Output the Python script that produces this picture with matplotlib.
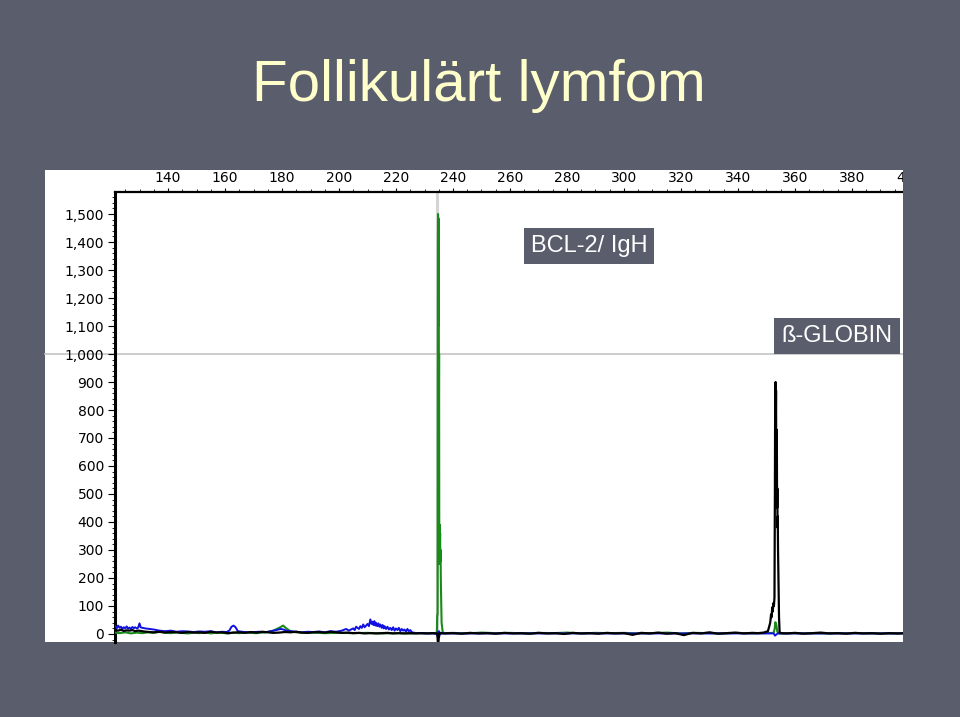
import matplotlib
matplotlib.use("Agg")
import matplotlib.pyplot as plt
from matplotlib.patches import Rectangle
from matplotlib.ticker import FixedLocator, MultipleLocator, FuncFormatter
from matplotlib import font_manager

# ---------------- data (size in bp, signal in RFU) ----------------
title_text = "Follikulärt lymfom"
label_bcl2 = "BCL-2/ IgH"
label_globin = "ß-GLOBIN"

x_ticks = [140, 160, 180, 200, 220, 240, 260, 280, 300, 320, 340, 360, 380, 400]
y_ticks = [0, 100, 200, 300, 400, 500, 600, 700, 800, 900, 1000, 1100, 1200, 1300, 1400, 1500]
ref_line_y = 1000
ref_line_x = 234.4

green_trace = [
    (121.5, 5), (123, 3), (125, 6), (127, 2), (129, 5), (131, 3), (133, 6), (135, 4),
    (137, 8), (139, 5), (141, 3), (143, 6), (145, 4), (147, 2), (149, 5), (151, 3),
    (153, 6), (155, 2), (157, 5), (159, 4), (161, 2), (163, 5), (165, 3), (167, 6),
    (169, 4), (171, 3), (173, 5), (175, 7), (177, 12), (179, 22), (180.4, 30),
    (181.5, 20), (183, 10), (185, 6), (187, 4), (190, 5), (195, 3), (200, 4),
    (205, 3), (210, 4), (215, 2), (220, 3), (225, 2), (230, 3), (234.0, 3),
    (234.35, 8), (234.45, 68), (234.6, 70), (234.7, 1380), (234.75, 1500),
    (234.82, 1250), (234.88, 1485), (234.95, 1100), (235.0, 1360), (235.06, 800),
    (235.12, 1000), (235.18, 380), (235.25, 250), (235.32, 390), (235.4, 320),
    (235.48, 360), (235.56, 260), (235.64, 300), (235.72, 200), (235.8, 150),
    (236.0, 40), (236.4, 6), (237, 3), (240, 4), (245, 2), (250, 5), (255, 3),
    (260, 4), (265, 2), (270, 4), (275, 3), (280, 5), (285, 2), (290, 4), (295, 3),
    (300, 4), (305, 2), (310, 3), (315, 5), (320, 2), (325, 4), (330, 3),
    (335, 2), (340, 4), (345, 2), (349, 3), (352.5, 4), (352.9, 20), (353.1, 42),
    (353.3, 38), (353.5, 30), (353.8, 8), (354.3, 2), (360, 3), (370, 2),
    (380, 3), (390, 2), (418, 2),
]

blue_trace = [
    (121.5, 28), (122.0, 20), (122.5, 30), (123.0, 22), (123.5, 26), (124.0, 18),
    (124.5, 24), (125.0, 20), (125.5, 27), (126.0, 19), (126.5, 23), (127.0, 18),
    (127.5, 25), (128.0, 21), (128.5, 24), (129.0, 20), (129.5, 22), (130.0, 38),
    (130.4, 24), (131, 22), (132, 20), (133.5, 18), (135, 16), (137, 12), (139, 10),
    (141, 12), (143, 8), (145, 10), (147, 9), (149, 7), (151, 9), (153, 8),
    (155, 10), (157, 6), (159, 8), (160.5, 7), (161.5, 12), (162.3, 26), (163, 30),
    (163.7, 24), (164.5, 10), (166, 8), (168, 6), (170, 7), (172, 8), (174, 6),
    (176, 10), (178, 14), (179.5, 18), (180.5, 16), (181.5, 12), (183, 10),
    (185, 8), (187, 6), (189, 8), (191, 7), (193, 9), (195, 6), (197, 10),
    (199, 8), (201, 12), (202.5, 18), (203.5, 12), (204, 15), (205, 20), (205.5, 14),
    (206, 26), (207, 18), (207.5, 28), (208, 22), (208.5, 34), (209, 24),
    (209.5, 30), (210, 36), (210.5, 28), (211, 52), (211.4, 36), (211.7, 44),
    (212.1, 32), (212.4, 46), (212.8, 30), (213, 40), (213.4, 28), (213.8, 38),
    (214.2, 26), (214.5, 34), (215.0, 22), (215.3, 32), (215.7, 20), (216, 28),
    (216.5, 18), (217, 26), (217.5, 16), (218, 22), (218.5, 14), (219, 24),
    (219.5, 12), (220, 20), (220.5, 14), (221, 22), (221.5, 10), (222, 18),
    (222.5, 12), (223, 16), (223.5, 8), (224, 18), (224.5, 10), (225, 14),
    (225.6, 6), (226.5, 4), (228, 3), (230, 2), (233, 2), (234.35, 0), (234.6, -10),
    (234.9, -12), (235.2, -8), (235.35, 4), (235.1, 10), (234.8, 8), (234.55, 0),
    (235.6, 2), (237, 2), (260, 2), (300, 2), (340, 2), (352.5, 2),
    (353.0, -6), (353.4, -2), (354, 2), (360, 2), (418, 2),
]

black_trace = [
    (121.5, 14), (122.5, 12), (123.5, 15), (124.5, 11), (125.5, 13), (126.5, 12),
    (127.5, 14), (128.5, 10), (129.5, 12), (130.5, 11), (131.5, 9), (132.5, 8),
    (133.5, 7), (135, 6), (137, 8), (139, 5), (141, 7), (143, 6), (145, 4),
    (147, 7), (149, 5), (151, 6), (153, 4), (155, 8), (157, 5), (159, 6),
    (161, 3), (163, 5), (165, 6), (167, 4), (169, 7), (171, 5), (173, 8),
    (175, 6), (177, 4), (179, 5), (181, 7), (183, 6), (185, 8), (187, 5),
    (189, 4), (191, 6), (193, 7), (195, 5), (197, 8), (199, 6), (201, 4),
    (203, 5), (205, 3), (207, 4), (209, 2), (211, 3), (213, 2), (215, 3),
    (217, 4), (219, 2), (221, 3), (223, 2), (225, 3), (227, 2), (229, 3),
    (231, 2), (233, 3), (234.5, 2), (234.8, -40), (235.0, -15), (235.2, 2),
    (235.6, 3), (237, 2), (240, 3), (243, 1), (246, 4), (249, 2), (252, 3),
    (255, 1), (258, 4), (261, 2), (264, 3), (267, 1), (270, 4), (273, 2),
    (276, 3), (279, 0), (282, 4), (285, 2), (288, 3), (291, 1), (294, 4),
    (297, 2), (300, 3), (303, -3), (306, 4), (309, 2), (312, 5), (315, 1),
    (318, 3), (321, -4), (324, 4), (327, 2), (330, 6), (333, 1), (336, 3),
    (339, 5), (342, 2), (345, 4), (347, 3), (349, 5), (350.5, 10), (351.3, 40),
    (351.6, 70), (351.8, 60), (352.0, 95), (352.2, 80), (352.4, 110), (352.6, 100),
    (352.8, 130), (352.95, 500), (353.05, 850), (353.12, 700), (353.2, 900),
    (353.27, 760), (353.35, 870), (353.42, 620), (353.5, 730), (353.57, 520),
    (353.65, 640), (353.72, 450), (353.8, 520), (353.88, 380), (353.95, 420),
    (354.05, 300), (354.2, 200), (354.4, 60), (354.6, 6), (355.2, 3),
    (357, 2), (360, 4), (363, 1), (366, 3), (369, 5), (372, 2), (375, 3),
    (378, 1), (381, 4), (384, 2), (387, 3), (390, 1), (393, 3), (396, 2),
    (399, 3), (405, 2), (418, 3),
]

# ---------------- styling ----------------
W, H = 960, 717
slide_bg = "#5a5d6c"
title_color = "#ffffcc"

avail = {f.name for f in font_manager.fontManager.ttflist}
title_font = "Liberation Sans Narrow" if "Liberation Sans Narrow" in avail else "Liberation Sans"

fig = plt.figure(figsize=(W / 100, H / 100), dpi=100)
fig.patch.set_facecolor(slide_bg)

def fx(px):
    return px / W

def fy(py):
    return 1 - py / H

# white panel behind the chart
fig.add_artist(Rectangle((fx(45), fy(642)), fx(903) - fx(45), fy(170) - fy(642),
                         transform=fig.transFigure, facecolor="white",
                         edgecolor="none", zorder=-5))

ax = fig.add_axes([fx(115), fy(642), fx(960) - fx(115), fy(192) - fy(642)])
ax.set_zorder(1)
ax.set_facecolor("white")
ax.set_xlim(121.4, 417.9)
ax.set_ylim(-28.6, 1578.6)

# reference lines
ax.axvline(ref_line_x, color="#d4d4d4", lw=2.2, zorder=1)
ax.plot([-0.083, 1.0], [ref_line_y, ref_line_y], color="#c4c4c4", lw=1.2,
        transform=ax.get_yaxis_transform(), clip_on=False, zorder=1)

def unpack(trace):
    return [p[0] for p in trace], [p[1] for p in trace]

gx, gy = unpack(green_trace)
bx, by = unpack(blue_trace)
kx, ky = unpack(black_trace)
ax.plot(gx, gy, color="#1a8a1a", lw=1.5, zorder=3)
ax.plot(bx, by, color="#1010e0", lw=1.4, zorder=4)
ax.plot(kx, ky, color="black", lw=1.6, zorder=5)

# spines
for s in ("right", "bottom"):
    ax.spines[s].set_visible(False)
ax.spines["left"].set_linewidth(2.2)
ax.spines["top"].set_linewidth(1.6)

# x axis on top
ax.xaxis.set_ticks_position("top")
ax.xaxis.set_label_position("top")
ax.xaxis.set_major_locator(FixedLocator(x_ticks))
ax.xaxis.set_minor_locator(MultipleLocator(5))
ax.tick_params(axis="x", which="major", direction="out", length=3, width=0.8,
               pad=2, labelsize=10, colors="black")
ax.tick_params(axis="x", which="minor", direction="out", length=2, width=0.6)

ax.yaxis.set_major_locator(FixedLocator(y_ticks))
ax.yaxis.set_minor_locator(MultipleLocator(20))
ax.yaxis.set_major_formatter(FuncFormatter(lambda v, p: f"{int(v):,}"))
ax.tick_params(axis="y", which="major", direction="out", length=5, width=0.8,
               pad=3, labelsize=10, colors="black")
ax.tick_params(axis="y", which="minor", direction="out", length=2.5, width=0.6)
for lab in ax.get_xticklabels() + ax.get_yticklabels():
    lab.set_family("DejaVu Sans")

# cover the part of the axes beyond the white panel
fig.add_artist(Rectangle((fx(903), 0), 1 - fx(903), 1, transform=fig.transFigure,
                         facecolor=slide_bg, edgecolor="none", zorder=20))

# title
fig.text(fx(479), fy(86), title_text, ha="center", va="center",
         color=title_color, fontsize=42, family=[title_font, "DejaVu Sans"], zorder=30)

# labels
box = dict(boxstyle="square,pad=0.3", facecolor=slide_bg, edgecolor="none")
fig.text(fx(589), fy(246), label_bcl2, ha="center", va="center", color="white",
         fontsize=17, family=["Liberation Sans", "DejaVu Sans"], bbox=box, zorder=30)
fig.text(fx(837), fy(336), label_globin, ha="center", va="center", color="white",
         fontsize=17, family=["Liberation Sans", "DejaVu Sans"], bbox=box, zorder=30)

fig.savefig("out.png", dpi=100, facecolor=fig.get_facecolor())
